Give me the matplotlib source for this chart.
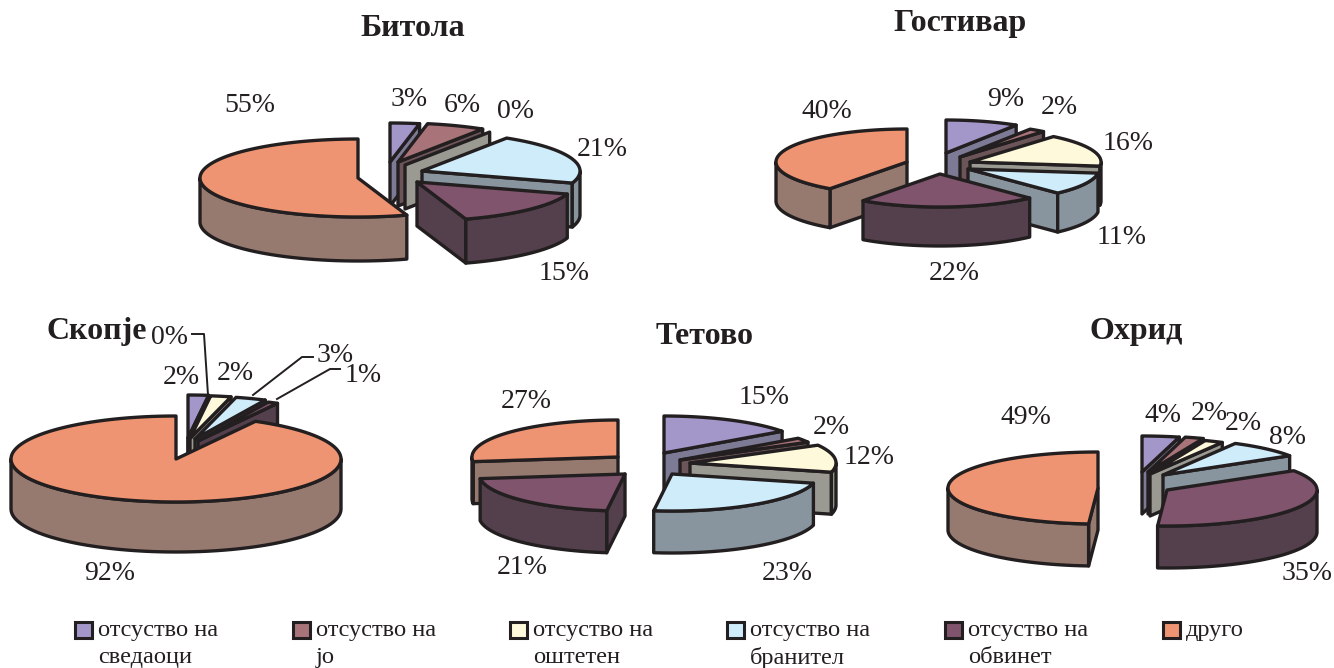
import numpy as np
import matplotlib
matplotlib.use('Agg')
import matplotlib.pyplot as plt
from matplotlib.patches import Polygon, Rectangle

# ====================== DATA ======================
legend_labels = ["отсуство на\nсведаоци", "отсуство на\nјо", "отсуство на\nоштетен",
                 "отсуство на\nбранител", "отсуство на\nобвинет", "друго"]

bitola = [3, 6, 0, 21, 15, 55]
gostivar = [9, 2, 16, 11, 22, 40]
skopje = [2, 0, 2, 3, 1, 92]
tetovo = [15, 2, 12, 23, 21, 27]
ohrid = [4, 2, 2, 8, 35, 49]

# ====================== STYLE / LAYOUT ======================
INK = '#231f20'
top_colors = ['#a397c9', '#a97479', '#fff9dc', '#cfecfb', '#7f546c', '#ef9472']
wall_colors = ['#7c7a94', '#6b5558', '#9a9a92', '#88959e', '#54404c', '#967a70']

# each chart: title, values, radii, depth, exploded slice tips, label centres
charts = [
    dict(title="Битола", title_xy=(413, 27), values=bitola, rx=158, ry=39, depth=44,
         tips=[(390, 162), (398, 162), (405, 165), (422, 171), (417, 182), (358, 178)],
         labels=[(409, 98), (462, 104), (515, 109), (602, 147), (564, 272), (250, 103)]),
    dict(title="Гостивар", title_xy=(960, 22), values=gostivar, rx=131, ry=33, depth=39,
         tips=[(946, 153), (960, 157), (970, 162), (968, 169), (940, 174), (907, 162)],
         labels=[(1006, 97), (1059, 106), (1128, 142), (1122, 236), (954, 271), (827, 110)]),
    dict(title="Скопје", title_xy=(97, 330), values=skopje, rx=165, ry=43, depth=50,
         tips=[(188, 438), (188, 438), (190, 438.5), (195, 439), (198, 441), (176, 459)],
         labels=[(181, 375), (169, 335), (235, 372), (335, 353), (363, 374), (110, 571)]),
    dict(title="Тетово", title_xy=(705, 334), values=tetovo, rx=146, ry=37, depth=42,
         tips=[(664, 453), (680, 460), (690, 463), (672, 474), (625, 474), (618, 457)],
         labels=[(764, 395), (831, 425), (869, 456), (787, 571), (522, 566), (526, 399)]),
    dict(title="Охрид", title_xy=(1136, 330), values=ohrid, rx=150, ry=36, depth=42,
         tips=[(1142, 472), (1148, 472), (1150, 474), (1163, 475), (1167, 490), (1098, 488)],
         labels=[(1163, 413), (1209, 411), (1243, 421), (1287, 436), (1307, 572), (1026, 416)]),
]

# Skopje leader lines: 0%, 3%, 1%
leaders = [[(208, 395), (204, 334), (192, 334)],
           [(253, 395), (302, 357), (313, 357)],
           [(277, 399), (330, 369), (340, 369)]]

legend_x = [75, 293, 510, 727, 945, 1163]

plt.rcParams['font.family'] = ['Liberation Serif', 'DejaVu Serif']


def rim(tip, rx, ry, deg):
    t = np.radians(deg)
    return np.column_stack([tip[0] + rx * np.sin(t), tip[1] - ry * np.cos(t)])


def draw_slice(ax, tip, a, b, rx, ry, depth, top, wall, z):
    lw = 2.4
    # cut faces, visible only when they turn towards the viewer
    for deg, show in ((a, np.sin(np.radians(a)) < -1e-6), (b, np.sin(np.radians(b)) > 1e-6)):
        if show:
            p = rim(tip, rx, ry, [deg])[0]
            face = [tip, p, (p[0], p[1] + depth), (tip[0], tip[1] + depth)]
            ax.add_patch(Polygon(face, closed=True, fc=wall, ec=INK, lw=lw, joinstyle='round', zorder=z))
    # outer wall, front half of the rim only
    lo, hi = max(a, 90), min(b, 270)
    if hi > lo:
        arc = rim(tip, rx, ry, np.linspace(lo, hi, 80))
        low = arc + [0, depth]
        ax.add_patch(Polygon(np.vstack([arc, low[::-1]]), closed=True, fc=wall, ec=INK, lw=lw,
                             joinstyle='round', zorder=z))
    # top face
    if b > a:
        arc = rim(tip, rx, ry, np.linspace(a, b, 120))
        ax.add_patch(Polygon(np.vstack([[tip], arc]), closed=True, fc=top, ec=INK, lw=lw,
                             joinstyle='round', zorder=z))


def draw_chart(ax, c):
    vals = np.array(c['values'], dtype=float)
    edges = np.concatenate([[0], np.cumsum(vals)]) / vals.sum() * 360
    # paint from back to front
    order = sorted(range(len(vals)),
                   key=lambda i: c['tips'][i][1] - 0.5 * c['ry'] * np.cos(np.radians((edges[i] + edges[i + 1]) / 2)))
    for n, i in enumerate(order):
        draw_slice(ax, c['tips'][i], edges[i], edges[i + 1], c['rx'], c['ry'], c['depth'],
                   top_colors[i], wall_colors[i], 2 + n * 0.01)
    for v, (x, y) in zip(c['values'], c['labels']):
        ax.text(x, y + 2, f"{v}%", fontsize=20, color=INK, ha='center', va='center', zorder=5)
    tx, ty = c['title_xy']
    ax.text(tx, ty + 2, c['title'], fontsize=23, fontweight='bold', color=INK,
            ha='center', va='center', zorder=6)


fig = plt.figure(figsize=(13.34, 6.68), dpi=100)
ax = fig.add_axes([0, 0, 1, 1])
ax.set_xlim(0, 1334)
ax.set_ylim(668, 0)
ax.axis('off')

for c in charts:
    draw_chart(ax, c)

for line in leaders:
    xs, ys = zip(*line)
    ax.plot(xs, ys, color=INK, lw=1.4, zorder=4.5)

# ====================== LEGEND ======================
for x, col, lab in zip(legend_x, top_colors, legend_labels):
    ax.add_patch(Rectangle((x, 622), 17, 16, fc=col, ec=INK, lw=2.2))
    ax.text(x + 23, 620, lab, fontsize=17.6, color=INK, ha='left', va='top', linespacing=1.38)

plt.savefig('out.png', dpi=100)
plt.close()
